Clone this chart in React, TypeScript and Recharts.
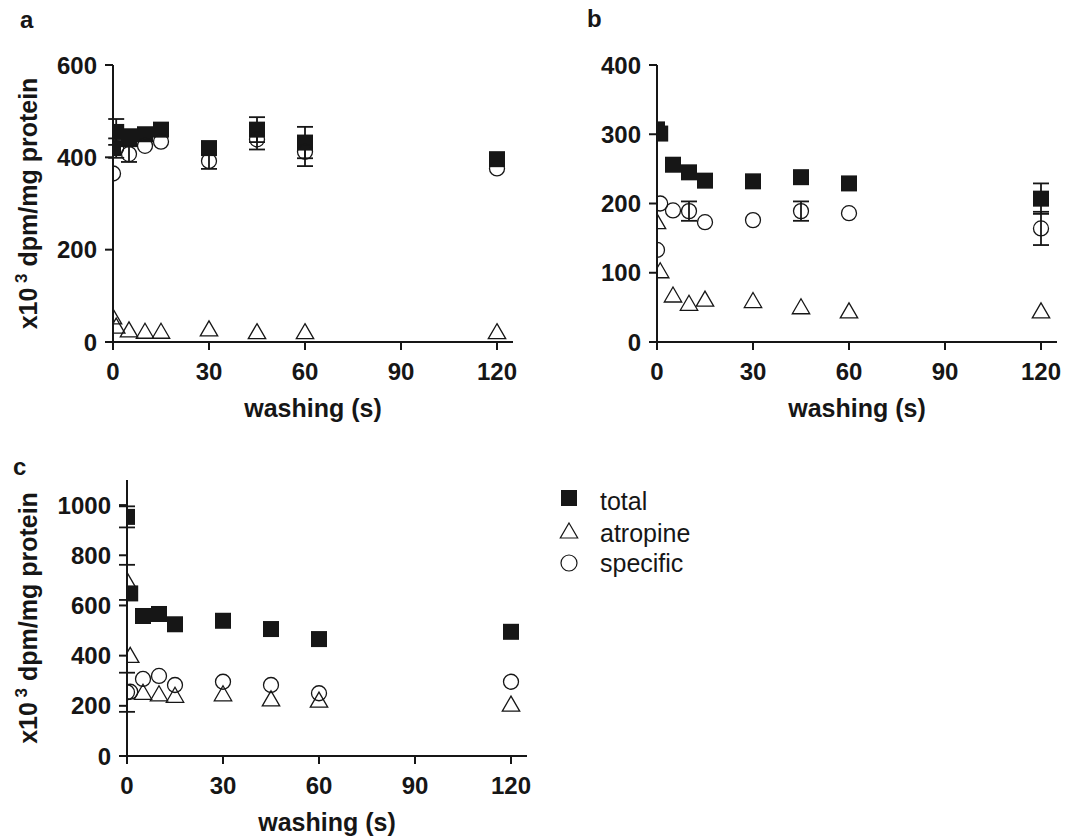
import React from 'react';
import { ScatterChart, Scatter, XAxis, YAxis, ErrorBar, Legend, Label } from 'recharts';

const seconds = [0, 1, 5, 10, 15, 30, 45, 60, 120];
const xTicks = [0, 30, 60, 90, 120];

// panel a
const aTicks = [0, 200, 400, 600];
const aTotal = [420, 455, 443, 450, 460, 420, 460, 432, 396];
const aTotalErr = [0, 28, 18, 0, 0, 0, 27, 34, 0];
const aAtropine = [50, 30, 22, 19, 19, 24, 18, 18, 18];
const aSpecific = [365, 420, 407, 425, 434, 392, 439, 412, 376];
const aSpecificErr = [0, 21, 17, 0, 0, 17, 22, 31, 0];

// panel b
const bTicks = [0, 100, 200, 300, 400];
const bTotal = [307, 301, 256, 245, 233, 232, 238, 229, 207];
const bTotalErr = [0, 0, 0, 0, 0, 0, 0, 0, 22];
const bAtropine = [171, 100, 65, 53, 59, 57, 48, 42, 42];
const bSpecific = [133, 200, 190, 189, 173, 176, 189, 186, 164];
const bSpecificErr = [0, 0, 0, 14, 0, 0, 14, 0, 24];

// panel c
const cTicks = [0, 200, 400, 600, 800, 1000];
const cTotal = [953, 648, 558, 566, 525, 539, 506, 466, 495];
const cTotalErr = [42, 0, 0, 0, 0, 0, 0, 0, 0];
const cAtropine = [692, 393, 246, 240, 234, 240, 220, 215, 199];
const cAtropineErr = [70, 0, 0, 0, 0, 0, 0, 0, 0];
const cSpecific = [254, 256, 307, 319, 283, 296, 283, 250, 296];
const cSpecificErr = [78, 0, 0, 0, 0, 0, 0, 0, 0];

const seriesNames = ['total', 'atropine', 'specific'];

const INK = '#161616';
const FONT = '"Liberation Sans", Arial, Helvetica, sans-serif';

const rows = (vals: number[], errs?: number[]) =>
  seconds.map((s, i) => ({ x: s, y: vals[i], err: errs && errs[i] ? errs[i] : undefined }));

const SquareDot = (p: any) => <rect x={p.cx - 8} y={p.cy - 8} width={16} height={16} fill={INK} />;
const CircleDot = (p: any) => (
  <circle cx={p.cx} cy={p.cy} r={7.5} fill="none" stroke={INK} strokeWidth={1.3} />
);
const TriangleDot = (p: any) => (
  <path
    d={`M${p.cx},${p.cy - 10}L${p.cx + 8.7},${p.cy + 5}L${p.cx - 8.7},${p.cy + 5}Z`}
    fill="none"
    stroke={INK}
    strokeWidth={1.3}
  />
);

const tickStyle = { fontSize: 24, fontWeight: 'bold', fill: INK, fontFamily: FONT };
const axisLine = { stroke: INK, strokeWidth: 2 };

const YTitle = (props: any) => {
  const vb = props.viewBox || {};
  const cx = 37;
  const cy = vb.y + vb.height / 2;
  return (
    <text
      x={cx}
      y={cy}
      transform={`rotate(-90 ${cx} ${cy})`}
      textAnchor="middle"
      fontSize={25}
      fontWeight="bold"
      fill={INK}
      fontFamily={FONT}
    >
      x10
      <tspan dy={-10} fontSize={17}> 3</tspan>
      <tspan dy={10}> dpm/mg protein</tspan>
    </text>
  );
};

const XTitle = (props: any) => {
  const vb = props.viewBox || {};
  return (
    <text
      x={vb.x + vb.width / 2}
      y={vb.y + 75}
      textAnchor="middle"
      fontSize={25}
      fontWeight="bold"
      fill={INK}
      fontFamily={FONT}
    >
      washing (s)
    </text>
  );
};

const legendIcon = (name: string, cx: number, cy: number) => {
  if (name === 'total') return <rect x={cx - 8} y={cy - 8} width={16} height={16} fill={INK} />;
  if (name === 'atropine')
    return (
      <path
        d={`M${cx},${cy - 10}L${cx + 8.7},${cy + 5}L${cx - 8.7},${cy + 5}Z`}
        fill="none"
        stroke={INK}
        strokeWidth={1.2}
      />
    );
  return <circle cx={cx} cy={cy} r={8} fill="none" stroke={INK} strokeWidth={1.2} />;
};

const LegendBox = (props: any) => {
  const payload = (props.payload || []).slice();
  payload.sort((p: any, q: any) => seriesNames.indexOf(p.value) - seriesNames.indexOf(q.value));
  const iconY = [16, 51, 81];
  const textY = [28, 60, 90];
  return (
    <svg width={220} height={100}>
      {payload.map((entry: any, i: number) => (
        <g key={entry.value}>
          {legendIcon(entry.value, 14, iconY[i])}
          <text x={45} y={textY[i]} fontSize={25} fill={INK} fontFamily={FONT}>
            {entry.value}
          </text>
        </g>
      ))}
    </svg>
  );
};

type PanelProps = {
  width: number;
  height: number;
  top: number;
  yWidth: number;
  right: number;
  xHeight: number;
  yMax: number;
  yTicks: number[];
  total: any[];
  atropine: any[];
  specific: any[];
  yTitle: boolean;
  legend?: boolean;
};

const Panel = (p: PanelProps) => (
  <ScatterChart width={p.width} height={p.height} margin={{ top: p.top, right: p.right, bottom: 0, left: 0 }}>
    <XAxis
      type="number"
      dataKey="x"
      domain={[0, 125]}
      ticks={xTicks}
      allowDataOverflow
      height={p.xHeight}
      axisLine={axisLine}
      tickLine={axisLine}
      tickSize={8}
      tickMargin={13}
      tick={tickStyle}
    >
      <Label content={XTitle} />
    </XAxis>
    <YAxis
      type="number"
      dataKey="y"
      domain={[0, p.yMax]}
      ticks={p.yTicks}
      allowDataOverflow
      width={p.yWidth}
      axisLine={axisLine}
      tickLine={axisLine}
      tickSize={8}
      tickMargin={8}
      tick={tickStyle}
    >
      {p.yTitle ? <Label content={YTitle} /> : null}
    </YAxis>
    <Scatter name="total" data={p.total} shape={SquareDot} isAnimationActive={false}>
      <ErrorBar dataKey="err" direction="y" width={8} stroke={INK} strokeWidth={1.8} />
    </Scatter>
    <Scatter name="atropine" data={p.atropine} shape={TriangleDot} isAnimationActive={false}>
      <ErrorBar dataKey="err" direction="y" width={8} stroke={INK} strokeWidth={1.8} />
    </Scatter>
    <Scatter name="specific" data={p.specific} shape={CircleDot} isAnimationActive={false}>
      <ErrorBar dataKey="err" direction="y" width={8} stroke={INK} strokeWidth={1.8} />
    </Scatter>
    {p.legend ? (
      <Legend
        layout="horizontal"
        verticalAlign="middle"
        align="center"
        wrapperStyle={{ left: 555, top: 82, width: 220, height: 100 }}
        content={LegendBox}
      />
    ) : null}
  </ScatterChart>
);

const letterStyle: React.CSSProperties = {
  position: 'absolute',
  fontFamily: FONT,
  fontWeight: 'bold',
  fontSize: 24,
  lineHeight: '24px',
  color: INK,
};

export default function App() {
  return (
    <div style={{ position: 'absolute', left: 0, top: 0, width: 1068, height: 838, background: '#fff' }}>
      <div style={{ ...letterStyle, left: 20, top: 8 }}>a</div>
      <div style={{ ...letterStyle, left: 587, top: 7 }}>b</div>
      <div style={{ ...letterStyle, left: 13, top: 455 }}>c</div>

      <div style={{ position: 'absolute', left: 0, top: 0 }}>
        <Panel
          width={540}
          height={430}
          top={65}
          yWidth={113}
          right={27}
          xHeight={88}
          yMax={600}
          yTicks={aTicks}
          total={rows(aTotal, aTotalErr)}
          atropine={rows(aAtropine)}
          specific={rows(aSpecific, aSpecificErr)}
          yTitle
        />
      </div>

      <div style={{ position: 'absolute', left: 544, top: 0 }}>
        <Panel
          width={524}
          height={430}
          top={65}
          yWidth={113}
          right={11}
          xHeight={88}
          yMax={400}
          yTicks={bTicks}
          total={rows(bTotal, bTotalErr)}
          atropine={rows(bAtropine)}
          specific={rows(bSpecific, bSpecificErr)}
          yTitle={false}
        />
      </div>

      <div style={{ position: 'absolute', left: 0, top: 400 }}>
        <Panel
          width={800}
          height={438}
          top={80}
          yWidth={127}
          right={273}
          xHeight={82}
          yMax={1100}
          yTicks={cTicks}
          total={rows(cTotal, cTotalErr)}
          atropine={rows(cAtropine, cAtropineErr)}
          specific={rows(cSpecific, cSpecificErr)}
          yTitle
          legend
        />
      </div>
    </div>
  );
}
